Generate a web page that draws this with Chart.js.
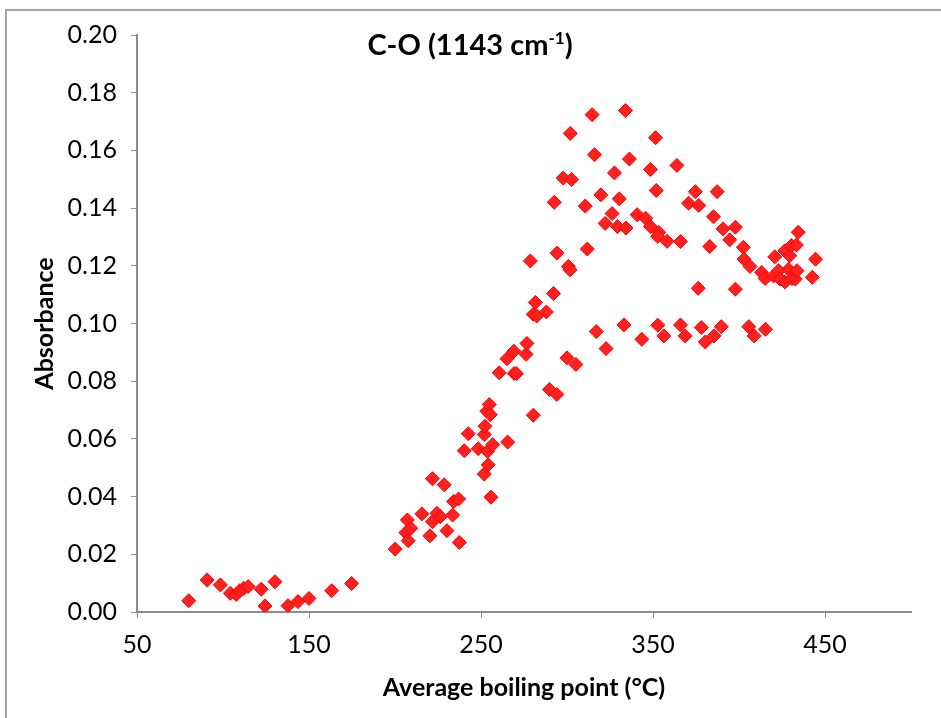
<!DOCTYPE html>
<html>
<head>
<meta charset="utf-8">
<script src="https://cdn.jsdelivr.net/npm/chart.js@4.4.0/dist/chart.umd.min.js"></script>
<style>
  html, body { margin: 0; padding: 0; background: #fff; }
  #wrap {
    position: relative;
    width: 941px;
    height: 718px;
    overflow: hidden;
  }
  #frame {
    position: absolute;
    left: 5px;
    top: 9px;
    right: -5px;
    bottom: -5px;
    border-left: 2px solid #a6a6a6;
    border-top: 2px solid #a6a6a6;
    pointer-events: none;
  }
</style>
</head>
<body>
<div id="wrap">
  <canvas id="chart" width="941" height="718"></canvas>
  <div id="frame"></div>
</div>
<script>
// values
const boilingPoint = [
  80.1, 90.8, 98.5, 104.3, 107.7, 109.8, 112.1, 114.6, 122.2, 124.4,
  130.2, 137.8, 143.6, 150.0, 163.2, 174.8,
  200.1, 206.3, 207.2, 207.7, 209.2, 215.6, 220.3, 221.8, 221.8, 224.4,
  226.3, 228.6, 230.2, 233.5, 234.1, 237.0, 237.4, 240.3, 242.6, 248.4,
  251.9, 251.9, 252.3, 253.4, 253.8, 254.2, 254.8, 255.4, 255.8, 256.8,
  265.5, 260.6, 265.1, 269.1, 269.3, 270.6, 276.2, 276.7, 280.4, 289.8,
  294.1, 278.7, 280.4, 281.6, 282.4, 288.0, 292.2, 292.6, 294.2, 297.8,
  300.0, 300.8, 301.8, 301.9, 302.7, 305.2, 310.6, 311.8, 314.6, 316.0,
  317.0, 319.7, 322.2, 322.7, 326.2, 327.6, 329.4, 330.4, 333.1, 334.0,
  334.3, 336.3, 340.8, 343.5, 345.7, 348.5, 348.5, 351.5, 351.9, 352.8,
  353.3, 352.7, 356.3, 358.2, 363.9, 366.0, 366.0, 368.7, 370.7, 374.6,
  376.3, 376.6, 378.1, 380.4, 383.0, 385.2, 385.5, 387.3, 389.7, 390.7,
  394.6, 397.9, 397.9, 402.5, 402.9, 405.7, 406.4, 408.8, 413.2, 415.2,
  415.4, 420.1, 420.8, 423.0, 423.9, 426.6, 426.8, 428.8, 429.5, 430.5,
  430.8, 432.7, 433.4, 433.7, 434.4, 442.6, 444.5
];
const absorbance = [
  0.0039, 0.0111, 0.0094, 0.0065, 0.0061, 0.0074, 0.0082, 0.0088, 0.0079, 0.0021,
  0.0105, 0.0022, 0.0036, 0.0047, 0.0074, 0.0099,
  0.0218, 0.0275, 0.0319, 0.0247, 0.0290, 0.0340, 0.0264, 0.0462, 0.0313, 0.0342,
  0.0330, 0.0441, 0.0282, 0.0336, 0.0383, 0.0392, 0.0241, 0.0559, 0.0618, 0.0566,
  0.0615, 0.0478, 0.0644, 0.0696, 0.0557, 0.0510, 0.0719, 0.0684, 0.0398, 0.0580,
  0.0589, 0.0829, 0.0878, 0.0904, 0.0827, 0.0826, 0.0893, 0.0931, 0.0682, 0.0771,
  0.0754, 0.1217, 0.1032, 0.1073, 0.1026, 0.1040, 0.1104, 0.1420, 0.1244, 0.1504,
  0.0881, 0.1198, 0.1186, 0.1659, 0.1499, 0.0858, 0.1407, 0.1258, 0.1724, 0.1585,
  0.0972, 0.1446, 0.1347, 0.0913, 0.1381, 0.1522, 0.1336, 0.1432, 0.0995, 0.1738,
  0.1331, 0.1570, 0.1377, 0.0945, 0.1365, 0.1534, 0.1336, 0.1644, 0.1461, 0.0994,
  0.1316, 0.1302, 0.0957, 0.1285, 0.1548, 0.1284, 0.0995, 0.0957, 0.1417, 0.1457,
  0.1122, 0.1409, 0.0986, 0.0936, 0.1267, 0.1370, 0.0957, 0.1457, 0.0989, 0.1328,
  0.1290, 0.1334, 0.1119, 0.1264, 0.1223, 0.0989, 0.1198, 0.0957, 0.1177, 0.1156,
  0.0980, 0.1165, 0.1231, 0.1183, 0.1154, 0.1252, 0.1144, 0.1188, 0.1235, 0.1270,
  0.1156, 0.1154, 0.1272, 0.1183, 0.1316, 0.1160, 0.1223
];
const xTicks = [50, 150, 250, 350, 450];

const points = boilingPoint.map((bp, i) => ({ x: bp, y: absorbance[i] }));

const axisColor = "#8c8c8c";
const fontFamily = "Lato, 'Open Sans', sans-serif";

// chart title with superscript, drawn over the plot like excel does
const titlePlugin = {
  id: "titlePlugin",
  afterDraw(chart) {
    const ctx = chart.ctx;
    const main = "C-O (1143 cm";
    const sup = "-1";
    const tail = ")";
    ctx.save();
    ctx.fillStyle = "#000";
    ctx.textBaseline = "alphabetic";
    ctx.font = "bold 29px " + fontFamily;
    const w1 = ctx.measureText(main).width;
    const w3 = ctx.measureText(tail).width;
    ctx.font = "bold 17px " + fontFamily;
    const w2 = ctx.measureText(sup).width;
    const total = w1 + w2 + w3;
    let x = 470 - total / 2;
    const y = 55;
    ctx.font = "bold 29px " + fontFamily;
    ctx.fillText(main, x, y);
    x += w1;
    ctx.font = "bold 17px " + fontFamily;
    ctx.fillText(sup, x, y - 11);
    x += w2;
    ctx.font = "bold 29px " + fontFamily;
    ctx.fillText(tail, x, y);
    ctx.restore();
  },
};

new Chart(document.getElementById("chart"), {
  type: "scatter",
  data: {
    datasets: [
      {
        label: "C-O",
        data: points,
        pointStyle: "rectRot",
        pointRadius: 7,
        pointHoverRadius: 7,
        backgroundColor: "#ff2020",
        borderColor: "#ff0000",
        borderWidth: 1,
      },
    ],
  },
  options: {
    responsive: false,
    animation: false,
    layout: {
      padding: { left: 0, right: 30, top: 35, bottom: 0 },
    },
    plugins: {
      legend: { display: false },
      tooltip: { enabled: false },
    },
    scales: {
      x: {
        type: "linear",
        min: 50,
        max: 500,
        afterBuildTicks: (axis) => {
          axis.ticks = xTicks.map((v) => ({ value: v }));
        },
        afterFit: (axis) => {
          axis.height = 106;
        },
        grid: {
          drawOnChartArea: false,
          drawTicks: true,
          tickLength: 6,
          color: axisColor,
        },
        border: { color: axisColor, width: 2 },
        ticks: {
          color: "#000",
          padding: 12,
          font: { family: fontFamily, size: 25 },
          maxRotation: 0,
        },
        title: {
          display: true,
          text: "Average boiling point (°C)",
          color: "#000",
          font: { family: fontFamily, size: 25, weight: "bold" },
          padding: { top: 0, bottom: 15 },
        },
      },
      y: {
        type: "linear",
        min: 0,
        max: 0.2,
        afterFit: (axis) => {
          axis.width = 137;
        },
        grid: {
          drawOnChartArea: false,
          drawTicks: true,
          tickLength: 6,
          color: axisColor,
        },
        border: { color: axisColor, width: 2 },
        ticks: {
          stepSize: 0.02,
          color: "#000",
          padding: 14,
          font: { family: fontFamily, size: 25 },
          callback: (v) => v.toFixed(2),
        },
        title: {
          display: true,
          text: "Absorbance",
          color: "#000",
          font: { family: fontFamily, size: 25, weight: "bold" },
          padding: { top: 30, bottom: 0 },
        },
      },
    },
  },
  plugins: [titlePlugin],
});
</script>
</body>
</html>
